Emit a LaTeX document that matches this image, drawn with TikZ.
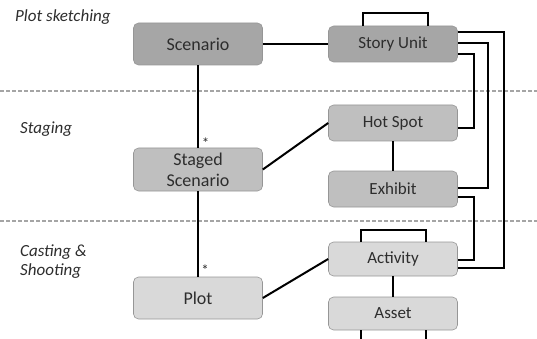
\documentclass[tikz,border=0pt]{standalone}
\usepackage{fontspec}
\setmainfont{Carlito}
\usetikzlibrary{calc}
\definecolor{dk}{RGB}{166,166,166}
\definecolor{md}{RGB}{191,191,191}
\definecolor{lt}{RGB}{217,217,217}
\definecolor{bd}{RGB}{150,150,150}
\definecolor{txt}{RGB}{45,45,45}
\definecolor{dsh}{RGB}{165,165,165}
\tikzset{
  box/.style={draw=bd, line width=0.6pt, rounded corners=5pt, minimum width=129pt, inner sep=0pt, align=center, text=txt},
  lbox/.style={box, font=\fontsize{18}{21}\selectfont},
  rbox/.style={box, font=\fontsize{17}{20}\selectfont},
  conn/.style={draw=black, line width=2pt},
  sect/.style={draw=dsh, line width=2pt, dash pattern=on 4pt off 2pt},
  phase/.style={anchor=west, font=\fontsize{17}{19}\selectfont\itshape, text=txt, align=left, inner sep=0pt},
  mult/.style={font=\fontsize{15}{15}\selectfont, text=txt, inner sep=0pt}
}
\begin{document}
\begin{tikzpicture}[x=1pt,y=-1pt]
\useasboundingbox (0,0) rectangle (537,339);
% section separators
\draw[sect] (0,91) -- (537,91);
\draw[sect] (0,221) -- (537,221);
% phase labels
\node[phase] (ps) at (15,17) {Plot sketching};
\node[phase] (st) at (20,129) {Staging};
\node[phase] (cs) at (20,261.5) {Casting \&\\Shooting};
% boxes
\node[lbox, fill=dk, minimum height=42pt] (scen) at (198,44) {Scenario};
\node[lbox, fill=md, minimum height=43pt] (staged) at (198,169.5) {Staged\\Scenario};
\node[lbox, fill=lt, minimum height=42pt] (plot) at (198,298) {Plot};
\node[rbox, fill=dk, minimum height=36pt] (story) at (393,44) {Story Unit};
\node[rbox, fill=md, minimum height=36pt] (hot) at (393,123) {Hot Spot};
\node[rbox, fill=md, minimum height=36pt] (exh) at (393,189) {Exhibit};
\node[rbox, fill=lt, minimum height=34pt] (act) at (393,259) {Activity};
\node[rbox, fill=lt, minimum height=33pt] (asset) at (393,313.5) {Asset};
% connectors
\draw[conn] (scen.east) -- (story.west);
\draw[conn] (scen.south) -- (staged.north);
\draw[conn] (staged.south) -- (plot.north);
\node[mult] (m1) at (205.5,143) {*};
\node[mult] (m2) at (205,270) {*};
\draw[conn] (staged.east) -- (hot.west);
\draw[conn] (plot.east) -- (act.west);
\draw[conn] (hot.south) -- (exh.north);
\draw[conn] (act.south) -- (asset.north);
% self loops
\draw[conn] ([xshift=-30pt]story.north) -- ++(0,-13) -| ([xshift=35pt]story.north);
\draw[conn] ([xshift=-32pt]act.north) -- ++(0,-12) -| ([xshift=33pt]act.north);
% asset continuation
\coordinate (a1) at (361,339);
\coordinate (a2) at (426,339);
\draw[conn] ([xshift=-32pt]asset.south) -- (a1);
\draw[conn] ([xshift=33pt]asset.south) -- (a2);
% right side routings
\draw[conn] ([yshift=12pt]story.east) -- ++(46.5,0) |- ([yshift=-9pt]act.east);
\draw[conn] ([yshift=1pt]story.east) -- ++(30.5,0) |- ([yshift=1pt]exh.east);
\draw[conn] ([yshift=-10pt]story.east) -- ++(16,0) |- ([yshift=-5pt]hot.east);
\draw[conn] ([yshift=-8pt]exh.east) -- ++(16,0) |- ([yshift=-1pt]act.east);
\end{tikzpicture}
\end{document}
